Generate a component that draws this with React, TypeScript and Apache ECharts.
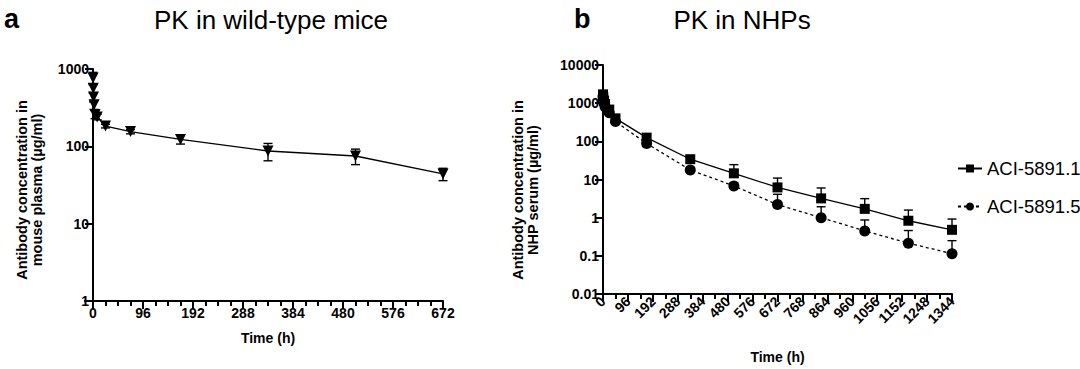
import React, { useEffect, useRef } from "react";
import * as echarts from "echarts";

// ---- Panel a: PK in wild-type mice ----
const miceTime = [0.083, 0.5, 1, 2, 4, 8, 24, 72, 168, 336, 504, 672];
const miceConc = [765, 565, 435, 345, 258, 240, 183, 155, 123, 87, 75, 44];
const miceSD = [140, 80, 60, 45, 30, 20, 10, 10, 16, 22, 17, 8];

// ---- Panel b: PK in NHPs ----
const nhpTime = [0.083, 1, 4, 8, 24, 48, 168, 336, 504, 672, 840, 1008, 1176, 1344];
const aci1Conc = [1700, 1450, 1150, 950, 680, 400, 125, 34, 14.5, 6.2, 3.2, 1.7, 0.83, 0.48];
const aci1Err = [150, 120, 100, 80, 60, 40, 25, 8, 10, 4.7, 2.8, 1.45, 0.75, 0.44];
const aci5Conc = [1500, 1250, 1000, 800, 560, 330, 88, 17.8, 6.8, 2.2, 1.0, 0.45, 0.215, 0.114];
const aci5Err = [100, 90, 80, 60, 40, 25, 10, 3, 1.5, 1.9, 0.93, 0.42, 0.245, 0.136];

const seriesNames = ["ACI-5891.1", "ACI-5891.5"];
const miceXTicks = { min: 0, max: 672, interval: 96 };
const nhpXTicks = { min: 0, max: 1344, interval: 96 };

const FONT = "'Liberation Sans', Arial, sans-serif";
const fmt = (v: number) => String(Number(v.toPrecision(6)));

function errorRenderer(both: boolean) {
  return (params: any, api: any) => {
    const x = api.value(0);
    const lo = api.value(1);
    const hi = api.value(2);
    const pHi = api.coord([x, hi]);
    const pLo = api.coord([x, lo]);
    const w = 4.5;
    const st = { stroke: "#000", lineWidth: 1.4 };
    const children: any[] = [
      { type: "line", shape: { x1: pHi[0], y1: pHi[1], x2: pLo[0], y2: pLo[1] }, style: st },
      { type: "line", shape: { x1: pHi[0] - w, y1: pHi[1], x2: pHi[0] + w, y2: pHi[1] }, style: st },
    ];
    if (both) {
      children.push({ type: "line", shape: { x1: pLo[0] - w, y1: pLo[1], x2: pLo[0] + w, y2: pLo[1] }, style: st });
    }
    return { type: "group", children };
  };
}

function xAxisCfg(grid: number, t: any, minorSplit: number, rotate: number, nameGap: number) {
  return {
    gridIndex: grid,
    type: "value",
    min: t.min,
    max: t.max,
    interval: t.interval,
    name: "Time (h)",
    nameLocation: "middle",
    nameGap,
    nameTextStyle: { fontFamily: FONT, fontWeight: "bold", fontSize: 14, color: "#000" },
    axisLine: { show: true, onZero: false, lineStyle: { color: "#000", width: 2 } },
    axisTick: { show: true, length: 8, lineStyle: { color: "#000", width: 2 } },
    minorTick: { show: true, splitNumber: minorSplit, length: 5, lineStyle: { color: "#000", width: 2 } },
    splitLine: { show: false },
    minorSplitLine: { show: false },
    axisLabel: { fontFamily: FONT, fontWeight: "bold", fontSize: 14, color: "#000", margin: 5, rotate, formatter: fmt },
  };
}

function yAxisCfg(grid: number, min: number, max: number) {
  return {
    gridIndex: grid,
    type: "log",
    logBase: 10,
    min,
    max,
    splitNumber: 8,
    axisLine: { show: true, onZero: false, lineStyle: { color: "#000", width: 2 } },
    axisTick: { show: true, length: 8, lineStyle: { color: "#000", width: 2 } },
    splitLine: { show: false },
    axisLabel: { fontFamily: FONT, fontWeight: "bold", fontSize: 14, color: "#000", margin: 4, formatter: fmt },
  };
}

export default function App() {
  const ref = useRef<HTMLDivElement>(null);
  useEffect(() => {
    document.body.style.margin = "0";
    const chart = echarts.init(ref.current!, null, { renderer: "svg" });
    const miceLine = miceTime.map((t, i) => [t, miceConc[i]]);
    const miceErr = miceTime.map((t, i) => [t, miceConc[i] - miceSD[i], miceConc[i] + miceSD[i]]);
    const a1Line = nhpTime.map((t, i) => [t, aci1Conc[i]]);
    const a1Err = nhpTime.map((t, i) => [t, aci1Conc[i], aci1Conc[i] + aci1Err[i]]);
    const a5Line = nhpTime.map((t, i) => [t, aci5Conc[i]]);
    const a5Err = nhpTime.map((t, i) => [t, aci5Conc[i], aci5Conc[i] + aci5Err[i]]);

    const option: any = {
      animation: false,
      backgroundColor: "#fff",
      textStyle: { fontFamily: FONT },
      grid: [
        { left: 93, top: 69, width: 350, height: 232 },
        { left: 603, top: 65, width: 349, height: 232 },
      ],
      xAxis: [xAxisCfg(0, miceXTicks, 4, 0, 30), xAxisCfg(1, nhpXTicks, 2, 45, 56)],
      yAxis: [yAxisCfg(0, 1, 1000), yAxisCfg(1, 0.01, 10000)],
      legend: {
        data: seriesNames,
        orient: "vertical",
        left: 952,
        top: 154,
        itemWidth: 24,
        itemHeight: 10,
        itemGap: 19,
        textStyle: { fontFamily: FONT, fontSize: 18.5, color: "#000" },
      },
      graphic: [
        { type: "line", shape: { x1: 84, y1: 301, x2: 93, y2: 301 }, style: { stroke: "#000", lineWidth: 2 } },
        { type: "text", x: 4, y: 5, style: { text: "a", fontFamily: FONT, fontWeight: "bold", fontSize: 27, fill: "#000" } },
        { type: "text", x: 574, y: 5, style: { text: "b", fontFamily: FONT, fontWeight: "bold", fontSize: 27, fill: "#000" } },
        { type: "text", x: 271, y: 20, style: { text: "PK in wild-type mice", fontFamily: FONT, fontSize: 26, fill: "#000", align: "center", verticalAlign: "middle" } },
        { type: "text", x: 742, y: 20, style: { text: "PK in NHPs", fontFamily: FONT, fontSize: 26, fill: "#000", align: "center", verticalAlign: "middle" } },
        { type: "text", x: 29, y: 190, rotation: Math.PI / 2, style: { text: "Antibody concentration in\nmouse plasma (µg/ml)", fontFamily: FONT, fontWeight: "bold", fontSize: 14.5, lineHeight: 15, fill: "#000", align: "center", verticalAlign: "middle" } },
        { type: "text", x: 525, y: 190, rotation: Math.PI / 2, style: { text: "Antibody concentration in\nNHP serum (µg/ml)", fontFamily: FONT, fontWeight: "bold", fontSize: 14.5, lineHeight: 15, fill: "#000", align: "center", verticalAlign: "middle" } },
      ],
      series: [
        {
          type: "custom", name: "miceErr", xAxisIndex: 0, yAxisIndex: 0, data: miceErr,
          renderItem: errorRenderer(true), encode: { x: 0, y: [1, 2] }, z: 1,
        },
        {
          type: "line", name: "mice", xAxisIndex: 0, yAxisIndex: 0, data: miceLine,
          symbol: "triangle", symbolRotate: 180, symbolSize: 11, showAllSymbol: true,
          lineStyle: { color: "#000", width: 1.3 }, itemStyle: { color: "#000" }, z: 3,
        },
        {
          type: "custom", name: "a1Err", xAxisIndex: 1, yAxisIndex: 1, data: a1Err,
          renderItem: errorRenderer(false), encode: { x: 0, y: [1, 2] }, z: 1,
        },
        {
          type: "custom", name: "a5Err", xAxisIndex: 1, yAxisIndex: 1, data: a5Err,
          renderItem: errorRenderer(false), encode: { x: 0, y: [1, 2] }, z: 1,
        },
        {
          type: "line", name: seriesNames[0], xAxisIndex: 1, yAxisIndex: 1, data: a1Line,
          symbol: "rect", symbolSize: 10, showAllSymbol: true,
          lineStyle: { color: "#000", width: 1.3 }, itemStyle: { color: "#000" }, z: 3,
        },
        {
          type: "line", name: seriesNames[1], xAxisIndex: 1, yAxisIndex: 1, data: a5Line,
          symbol: "circle", symbolSize: 11, showAllSymbol: true,
          lineStyle: { color: "#000", width: 1.3, type: [3, 3] }, itemStyle: { color: "#000" }, z: 3,
        },
      ],
    };
    chart.setOption(option);
    return () => chart.dispose();
  }, []);
  return <div ref={ref} style={{ width: 1080, height: 369 }} />;
}
